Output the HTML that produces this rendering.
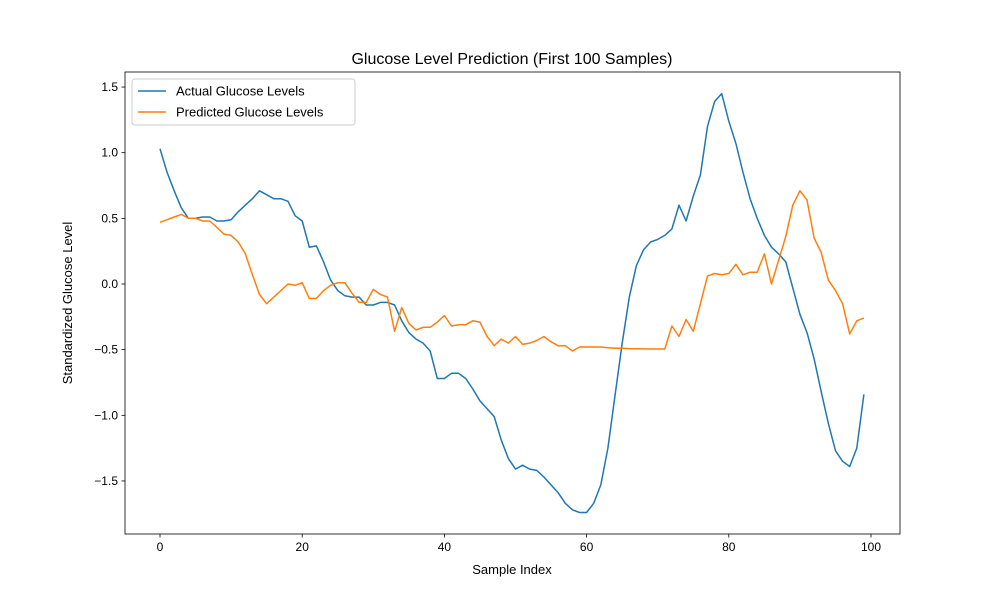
<!DOCTYPE html>
<html><head><meta charset="utf-8"><style>
body{margin:0;background:#fff;}
svg{font-family:"Liberation Sans","DejaVu Sans",sans-serif;}
</style></head><body>
<svg id="chart" width="1000" height="600">
<rect width="1000" height="600" fill="#fff"/>
<g id="plot"></g>
</svg>
<script>
const actual=[1.03,0.85,0.71,0.58,0.50,0.50,0.51,0.51,0.48,0.48,0.49,0.55,0.60,0.65,0.71,0.68,0.65,0.65,0.63,0.52,0.48,0.28,0.29,0.17,0.03,-0.05,-0.09,-0.10,-0.10,-0.16,-0.16,-0.14,-0.14,-0.16,-0.28,-0.37,-0.42,-0.45,-0.51,-0.72,-0.72,-0.68,-0.68,-0.72,-0.80,-0.89,-0.95,-1.01,-1.19,-1.33,-1.41,-1.38,-1.41,-1.42,-1.47,-1.53,-1.59,-1.67,-1.72,-1.74,-1.74,-1.67,-1.53,-1.25,-0.85,-0.45,-0.10,0.14,0.26,0.32,0.34,0.37,0.42,0.60,0.48,0.67,0.83,1.20,1.39,1.45,1.24,1.07,0.85,0.65,0.50,0.37,0.28,0.23,0.17,-0.03,-0.23,-0.37,-0.57,-0.82,-1.06,-1.27,-1.35,-1.39,-1.25,-0.84];
const predicted=[0.47,0.49,0.51,0.53,0.50,0.50,0.48,0.48,0.43,0.38,0.37,0.32,0.23,0.07,-0.08,-0.15,-0.10,-0.05,0.00,-0.01,0.01,-0.11,-0.11,-0.05,-0.01,0.01,0.01,-0.07,-0.14,-0.14,-0.04,-0.08,-0.10,-0.36,-0.18,-0.30,-0.35,-0.33,-0.33,-0.29,-0.24,-0.32,-0.31,-0.31,-0.28,-0.29,-0.40,-0.47,-0.42,-0.45,-0.40,-0.46,-0.45,-0.43,-0.40,-0.44,-0.47,-0.47,-0.51,-0.48,-0.48,-0.48,-0.48,-0.485,-0.49,-0.49,-0.492,-0.493,-0.494,-0.495,-0.495,-0.495,-0.32,-0.40,-0.27,-0.36,-0.15,0.06,0.08,0.07,0.08,0.15,0.07,0.09,0.09,0.23,0.00,0.18,0.36,0.60,0.71,0.64,0.35,0.24,0.03,-0.05,-0.15,-0.38,-0.28,-0.26];
const xTicks=[0,20,40,60,80,100];
const yTicks=[-1.5,-1.0,-0.5,0.0,0.5,1.0,1.5];
const L=125,R=900,T=72,B=534;
function X(v){return 160+v*7.11;}
function Y(v){return 284-v*131.3;}
const NS="http://www.w3.org/2000/svg";
const g=document.getElementById('plot');
function mk(t,a,txt){const e=document.createElementNS(NS,t);for(const k in a)e.setAttribute(k,a[k]);if(txt!==undefined)e.textContent=txt;g.appendChild(e);return e;}
function line(data,color,name){
  const p=mk('path',{d:data.map((v,i)=>(i?'L':'M')+X(i).toFixed(1)+','+Y(v).toFixed(1)).join(''),fill:'none',stroke:color,'stroke-width':1.5,'stroke-linejoin':'round'});
  
  
}
line(actual,'#1f77b4','actual-glucose-line');
line(predicted,'#ff7f0e','predicted-glucose-line');
const frame=mk('rect',{x:L,y:T,width:R-L,height:B-T,fill:'none',stroke:'#000','stroke-width':0.8});


xTicks.forEach(v=>{
  mk('line',{x1:X(v),x2:X(v),y1:B,y2:B+3.5,stroke:'#000','stroke-width':0.8});
  const t=mk('text',{x:X(v),y:B+17,'text-anchor':'middle','font-size':12},String(v));
  
  
});
yTicks.forEach(v=>{
  mk('line',{x1:L-3.5,x2:L,y1:Y(v),y2:Y(v),stroke:'#000','stroke-width':0.8});
  const t=mk('text',{x:L-7,y:Y(v)+4,'text-anchor':'end','font-size':12},(v<0?'\u2212':'')+Math.abs(v).toFixed(1));
  
  
});
const title=mk('text',{x:512,y:64,'text-anchor':'middle','font-size':16},'Glucose Level Prediction (First 100 Samples)');


const xl=mk('text',{x:512,y:574,'text-anchor':'middle','font-size':13},'Sample Index');


const yl=mk('text',{x:72,y:303,'text-anchor':'middle','font-size':13,transform:'rotate(-90 72 303)'},'Standardized Glucose Level');


const lg=mk('rect',{x:132,y:79,width:223,height:46,rx:3,fill:'#fff',stroke:'#ccc','stroke-width':1});


[['Actual Glucose Levels','#1f77b4',91],['Predicted Glucose Levels','#ff7f0e',112]].forEach(([s,c,y])=>{
  mk('line',{x1:138,x2:166,y1:y,y2:y,stroke:c,'stroke-width':1.5});
  const t=mk('text',{x:176,y:y+4.5,'font-size':13},s);
  
  
});
</script>
</body></html>
